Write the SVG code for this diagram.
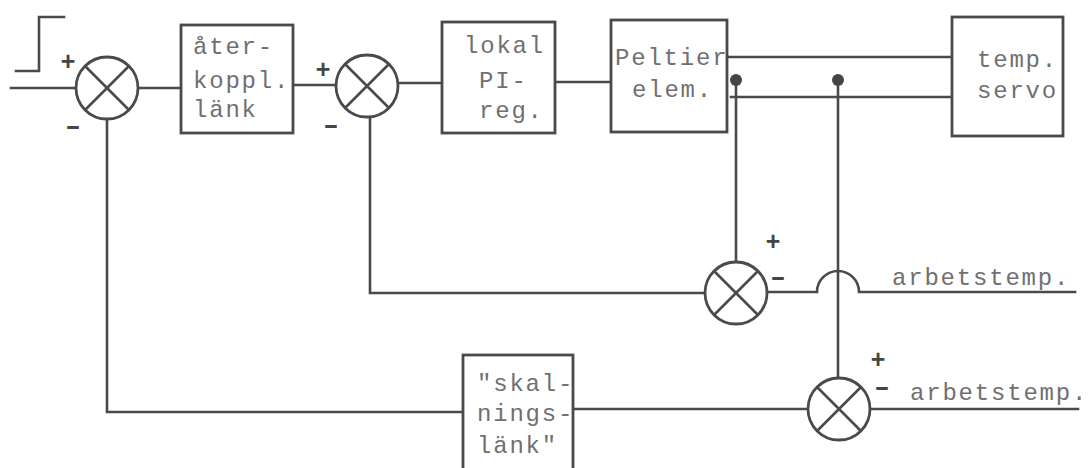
<svg xmlns="http://www.w3.org/2000/svg" xmlns:xlink="http://www.w3.org/1999/xlink" width="1089" height="468" viewBox="0 0 1089 468">
  <style>
    .wire { fill: none; stroke: #4a4a4a; stroke-width: 2.6; stroke-linecap: square; }
    .blk { fill: #ffffff; stroke: #4a4a4a; stroke-width: 2.8; }
    .lbl { font-family: "Liberation Mono", "Courier New", monospace; font-size: 24px; letter-spacing: 1.8px; fill: #707070; }
    .sign { font-family: "Liberation Sans", Arial, sans-serif; font-weight: bold; font-size: 25px; fill: #454545; text-anchor: middle; }
    .dot { fill: #454545; }
  </style>
  <defs>
    <!-- summing junction: circle with a cross -->
    <g id="sumj">
      <circle r="31" fill="#ffffff" stroke="#4a4a4a" stroke-width="2.8"/>
      <path d="M-22,-22 L22,22 M22,-22 L-22,22" fill="none" stroke="#4a4a4a" stroke-width="2.6"/>
    </g>
  </defs>
  <rect width="1089" height="468" fill="#ffffff"/>

  <!-- connectors -->
  <g id="connectors">
    <!-- step input symbol -->
    <path class="wire" d="M16,71 H39 V17 H64"/>
    <path class="wire" d="M11,88 H77"/>
    <path class="wire" d="M137,88 H181"/>
    <path class="wire" d="M293,85 H336"/>
    <path class="wire" d="M398,83 H442"/>
    <path class="wire" d="M555,82 H611"/>
    <!-- Peltier element to temperature servo -->
    <path class="wire" d="M727,57 H952"/>
    <path class="wire" d="M731,97 H952"/>
    <!-- measurement taps -->
    <path class="wire" d="M736,80 V262"/>
    <path class="wire" d="M838,80 V378"/>
    <circle class="dot" cx="736" cy="80" r="6"/>
    <circle class="dot" cx="838" cy="80" r="6"/>
    <!-- inner loop feedback -->
    <path class="wire" d="M705,293 H370 V117"/>
    <!-- setpoint line with hop-over -->
    <path class="wire" d="M767,292 H817 A21,21 0 0 1 859,292 H1075"/>
    <!-- outer loop feedback -->
    <path class="wire" d="M107,119 V412 H463"/>
    <path class="wire" d="M573,409 H808"/>
    <path class="wire" d="M870,409 H1078"/>
  </g>

  <!-- summing junctions -->
  <g id="sum1" transform="translate(107,88)"><use xlink:href="#sumj"/></g>
  <g id="sum2" transform="translate(367,86)"><use xlink:href="#sumj"/></g>
  <g id="sum3" transform="translate(736,293)"><use xlink:href="#sumj"/></g>
  <g id="sum4" transform="translate(839,409)"><use xlink:href="#sumj"/></g>

  <!-- signs -->
  <g id="signs">
    <text class="sign" x="68" y="70">+</text>
    <text class="sign" x="73" y="134" textLength="15" lengthAdjust="spacingAndGlyphs">-</text>
    <text class="sign" x="323" y="78">+</text>
    <text class="sign" x="331" y="133" textLength="15" lengthAdjust="spacingAndGlyphs">-</text>
    <text class="sign" x="773" y="250">+</text>
    <text class="sign" x="778" y="285" textLength="15" lengthAdjust="spacingAndGlyphs">-</text>
    <text class="sign" x="878" y="368">+</text>
    <text class="sign" x="882" y="395" textLength="15" lengthAdjust="spacingAndGlyphs">-</text>
  </g>

  <!-- blocks -->
  <g id="aterkoppl">
    <rect class="blk" x="181" y="25" width="112" height="108"/>
    <text class="lbl" x="193" y="54">åter-</text>
    <text class="lbl" x="193" y="88">koppl.</text>
    <text class="lbl" x="193" y="117">länk</text>
  </g>
  <g id="pi-reg">
    <rect class="blk" x="442" y="22" width="113" height="111"/>
    <text class="lbl" x="464" y="53">lokal</text>
    <text class="lbl" x="479" y="88">PI-</text>
    <text class="lbl" x="479" y="118">reg.</text>
  </g>
  <g id="peltier">
    <rect class="blk" x="611" y="20" width="116" height="112"/>
    <text class="lbl" x="615" y="65">Peltier</text>
    <text class="lbl" x="632" y="97">elem.</text>
  </g>
  <g id="tempservo">
    <rect class="blk" x="952" y="17" width="111" height="119"/>
    <text class="lbl" x="977" y="67">temp.</text>
    <text class="lbl" x="977" y="98">servo</text>
  </g>
  <g id="skalning">
    <rect class="blk" x="463" y="355" width="110" height="125"/>
    <text class="lbl" x="477" y="391">"skal-</text>
    <text class="lbl" x="477" y="421">nings-</text>
    <text class="lbl" x="477" y="453">länk"</text>
  </g>

  <!-- outputs -->
  <g id="labels">
    <text class="lbl" x="892" y="285">arbetstemp.</text>
    <text class="lbl" x="910" y="400">arbetstemp.</text>
  </g>
</svg>
